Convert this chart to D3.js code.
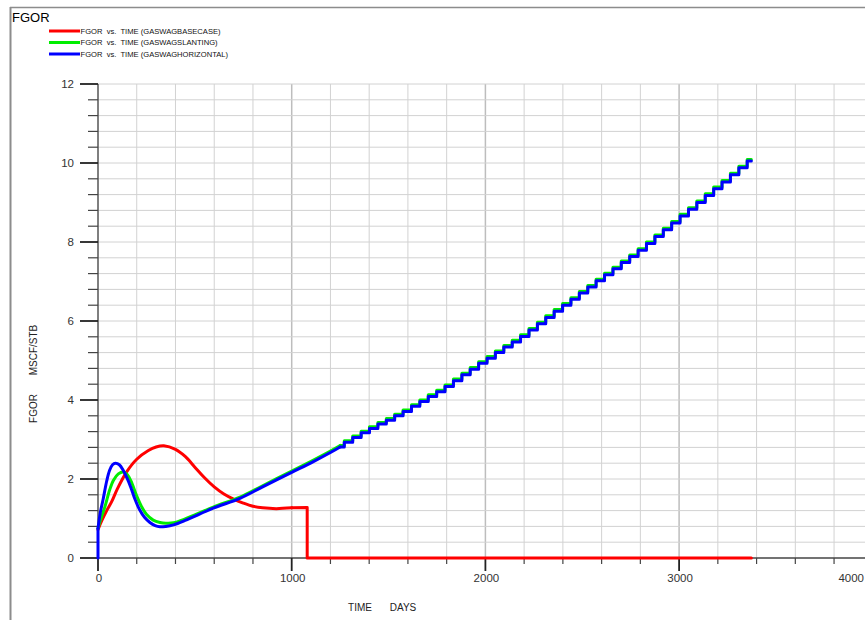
<!DOCTYPE html>
<html>
<head>
<meta charset="utf-8">
<script src="https://cdn.jsdelivr.net/npm/d3@7"></script>
<style>
  html, body { margin: 0; padding: 0; background: #fff; }
  svg { display: block; font-family: "Liberation Sans", Arial, sans-serif; }
  text { white-space: pre; }
</style>
</head>
<body>
<svg id="chart" width="865" height="620"></svg>
<script>
// ---- Field gas-oil ratio vs. time, three gas-WAG cases ----

const seriesNames = [
  "FGOR  vs.  TIME (GASWAGBASECASE)",
  "FGOR  vs.  TIME (GASWAGSLANTING)",
  "FGOR  vs.  TIME (GASWAGHORIZONTAL)"
];
const seriesColors = ["#ff0000", "#00ee00", "#0000ff"];

const xTickLabels = ["0", "1000", "2000", "3000", "4000"];
const yTickLabels = ["0", "2", "4", "6", "8", "10", "12"];

// Base case: smooth hump, then a flat tail, then shut in
const baseEarlyDays = [0, 20, 45, 70, 100, 148, 200, 260, 300, 340, 400, 450, 500, 550, 600, 650, 700, 750, 800, 850, 920, 1000];
const baseEarlyFgor = [0.72, 0.95, 1.2, 1.42, 1.75, 2.18, 2.5, 2.72, 2.81, 2.84, 2.75, 2.57, 2.3, 2.03, 1.8, 1.62, 1.49, 1.39, 1.31, 1.27, 1.25, 1.27];
const baseLateDays = [1000, 1080, 1080, 3373];
const baseLateFgor = [1.27, 1.28, 0, 0];

// Slanting well case
const slantEarlyDays = [0, 15, 36, 60, 80, 105, 130, 150, 170, 199, 225, 251, 285, 320, 350, 390, 450, 595, 733, 850, 1000, 1100, 1200, 1250];
const slantEarlyFgor = [0.75, 1.0, 1.3, 1.72, 1.97, 2.13, 2.18, 2.12, 1.95, 1.58, 1.3, 1.1, 0.96, 0.9, 0.88, 0.89, 0.99, 1.29, 1.54, 1.83, 2.2, 2.45, 2.71, 2.85];

// Horizontal well case
const horizEarlyDays = [0, 0, 12, 27, 45, 60, 75, 90, 110, 130, 150, 170, 190, 215, 240, 268, 295, 320, 350, 390, 450, 595, 733, 850, 1000, 1100, 1200, 1250];
const horizEarlyFgor = [0, 0.75, 1.15, 1.5, 1.95, 2.22, 2.36, 2.4, 2.36, 2.22, 2.02, 1.78, 1.5, 1.22, 1.03, 0.9, 0.82, 0.79, 0.8, 0.84, 0.95, 1.26, 1.51, 1.8, 2.17, 2.41, 2.67, 2.81];

// Report steps of the later period (values held between reports)
const stepDays = [1250, 1293, 1337, 1380, 1423, 1467, 1510, 1553, 1597, 1640, 1683, 1727, 1770, 1813, 1857, 1900, 1943, 1987, 2030, 2073, 2117, 2160, 2203, 2247, 2290, 2333, 2377, 2420, 2463, 2507, 2550, 2593, 2637, 2680, 2723, 2767, 2810, 2853, 2897, 2940, 2983, 3027, 3070, 3113, 3157, 3200, 3243, 3287, 3330, 3373];
const slantStepFgor = [2.85, 2.97, 3.09, 3.21, 3.32, 3.43, 3.53, 3.64, 3.75, 3.88, 4.0, 4.13, 4.25, 4.38, 4.53, 4.68, 4.82, 4.97, 5.1, 5.24, 5.38, 5.51, 5.65, 5.81, 5.97, 6.13, 6.29, 6.44, 6.59, 6.75, 6.9, 7.06, 7.21, 7.36, 7.52, 7.67, 7.83, 8.0, 8.18, 8.35, 8.52, 8.7, 8.87, 9.04, 9.22, 9.39, 9.56, 9.74, 9.92, 10.09];
const horizStepFgor = [2.81, 2.93, 3.05, 3.17, 3.28, 3.39, 3.49, 3.6, 3.71, 3.84, 3.96, 4.09, 4.21, 4.34, 4.49, 4.64, 4.78, 4.93, 5.06, 5.2, 5.34, 5.47, 5.61, 5.77, 5.93, 6.09, 6.25, 6.4, 6.55, 6.71, 6.86, 7.02, 7.17, 7.32, 7.48, 7.63, 7.79, 7.96, 8.14, 8.31, 8.48, 8.66, 8.83, 9.0, 9.18, 9.35, 9.52, 9.7, 9.88, 10.05];

const zip = (a, b) => a.map((d, i) => [d, b[i]]);

const svg = d3.select("#chart");
const x = d3.scaleLinear().domain([0, 4000]).range([98, 872.8]);
const y = d3.scaleLinear().domain([0, 12]).range([558, 84]);

// Outer frame
svg.append("line").attr("x1", 10).attr("x2", 865).attr("y1", 7.5).attr("y2", 7.5)
  .attr("stroke", "#8c8c8c").attr("stroke-width", 1.5);
svg.append("line").attr("x1", 10.5).attr("x2", 10.5).attr("y1", 7).attr("y2", 620)
  .attr("stroke", "#8c8c8c").attr("stroke-width", 2);

// Title and legend
svg.append("text").attr("x", 12).attr("y", 22).attr("font-size", 13).attr("fill", "#000").text("FGOR");
const legend = svg.append("g");
seriesNames.forEach((name, i) => {
  const ly = 31 + i * 11.5;
  legend.append("line").attr("x1", 49).attr("x2", 80).attr("y1", ly).attr("y2", ly)
    .attr("stroke", seriesColors[i]).attr("stroke-width", 3);
  legend.append("text").attr("x", 80.5).attr("y", ly).attr("dy", "0.35em")
    .attr("font-size", 7.6).attr("fill", "#111").text(name);
});

// Grid
const grid = svg.append("g");
const xMinor = d3.range(1, 21).map(i => i * 200);
const yMinor = d3.range(1, 31).map(i => i * 0.4);
grid.selectAll(".gx").data(xMinor).join("line")
  .attr("x1", d => x(d)).attr("x2", d => x(d)).attr("y1", y(12)).attr("y2", y(0))
  .attr("stroke", d => d % 1000 === 0 ? "#bdbdbd" : "#d2d2d2")
  .attr("stroke-width", d => d % 1000 === 0 ? 1.5 : 1);
grid.selectAll(".gy").data(yMinor).join("line")
  .attr("x1", x(0)).attr("x2", 865).attr("y1", d => y(d)).attr("y2", d => y(d))
  .attr("stroke", "#d2d2d2").attr("stroke-width", 1);

// Axes
const axes = svg.append("g");
axes.append("line").attr("x1", x(0)).attr("x2", x(0)).attr("y1", y(12)).attr("y2", y(0))
  .attr("stroke", "#555").attr("stroke-width", 1.5);
axes.append("line").attr("x1", x(0)).attr("x2", 865).attr("y1", y(0)).attr("y2", y(0))
  .attr("stroke", "#444").attr("stroke-width", 1.5);

// y ticks
const yMajor = yTickLabels.map(Number);
const isYMajor = d => yMajor.some(v => Math.abs(v - d) < 1e-6);
axes.selectAll(".ytm").data([0].concat(yMinor)).join("line")
  .attr("x1", d => isYMajor(d) ? x(0) - 18 : x(0) - 10)
  .attr("x2", x(0)).attr("y1", d => y(d)).attr("y2", d => y(d))
  .attr("stroke", d => isYMajor(d) ? "#222" : "#444")
  .attr("stroke-width", d => isYMajor(d) ? 1.8 : 1.2);
axes.selectAll(".ytl").data(yTickLabels).join("text")
  .attr("x", x(0) - 24).attr("y", d => y(+d)).attr("dy", "0.36em")
  .attr("text-anchor", "end").attr("font-size", 11.5).attr("fill", "#333").text(d => d);

// x ticks
const xMajor = xTickLabels.map(Number);
axes.selectAll(".xtm").data([0].concat(xMinor)).join("line")
  .attr("x1", d => x(d)).attr("x2", d => x(d)).attr("y1", y(0))
  .attr("y2", d => xMajor.includes(d) ? y(0) + 13 : y(0) + 6)
  .attr("stroke", d => xMajor.includes(d) ? "#222" : "#444")
  .attr("stroke-width", d => xMajor.includes(d) ? 1.8 : 1.2);
axes.selectAll(".xtl").data(xTickLabels).join("text")
  .attr("x", (d, i) => i === xTickLabels.length - 1 ? 864 : x(+d) + 1)
  .attr("y", y(0) + 24)
  .attr("text-anchor", (d, i) => i === xTickLabels.length - 1 ? "end" : "middle")
  .attr("font-size", 11.5).attr("fill", "#333").text(d => d);

// Axis titles
svg.append("text").attr("x", 360).attr("y", 611).attr("text-anchor", "middle")
  .attr("font-size", 10).attr("fill", "#222").text("TIME");
svg.append("text").attr("x", 403).attr("y", 611).attr("text-anchor", "middle")
  .attr("font-size", 10).attr("fill", "#222").text("DAYS");
svg.append("text").attr("transform", "translate(37,408.5) rotate(-90)").attr("text-anchor", "middle")
  .attr("font-size", 10).attr("fill", "#222").text("FGOR");
svg.append("text").attr("transform", "translate(37,350) rotate(-90)").attr("text-anchor", "middle")
  .attr("font-size", 10).attr("fill", "#222").text("MSCF/STB");

// Curves
const lineSmooth = d3.line().x(d => x(d[0])).y(d => y(d[1])).curve(d3.curveCatmullRom.alpha(0.5));
const lineStraight = d3.line().x(d => x(d[0])).y(d => y(d[1])).curve(d3.curveLinear);
const lineStep = d3.line().x(d => x(d[0])).y(d => y(d[1])).curve(d3.curveStep);

const plot = svg.append("g").attr("fill", "none").attr("stroke-width", 3)
  .attr("stroke-linejoin", "round").attr("stroke-linecap", "round");

const pieces = [
  { data: zip(baseEarlyDays, baseEarlyFgor), gen: lineSmooth, c: 0 },
  { data: zip(baseLateDays, baseLateFgor), gen: lineStraight, c: 0 },
  { data: zip(slantEarlyDays, slantEarlyFgor), gen: lineSmooth, c: 1 },
  { data: zip(stepDays, slantStepFgor), gen: lineStep, c: 1 },
  { data: zip(horizEarlyDays.slice(0, 2), horizEarlyFgor.slice(0, 2)), gen: lineStraight, c: 2 },
  { data: zip(horizEarlyDays.slice(1), horizEarlyFgor.slice(1)), gen: lineSmooth, c: 2 },
  { data: zip(stepDays, horizStepFgor), gen: lineStep, c: 2 }
];
pieces.forEach(p => {
  plot.append("path").attr("d", p.gen(p.data)).attr("stroke", seriesColors[p.c]);
});
</script>
</body>
</html>
